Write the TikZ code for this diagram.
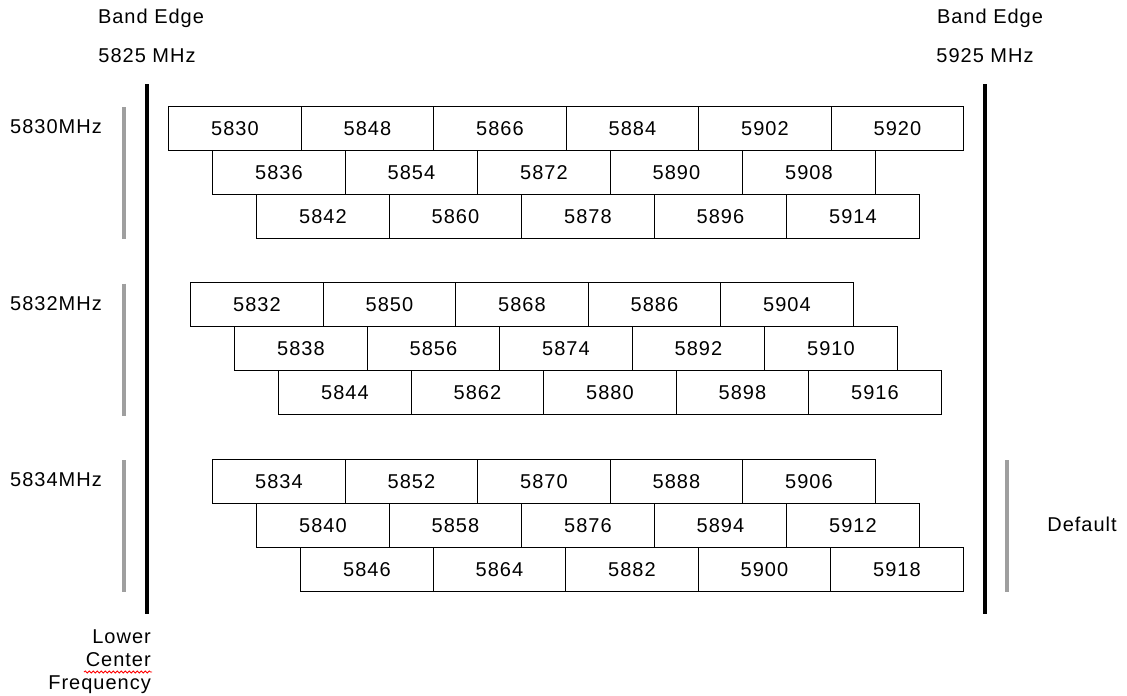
\documentclass[tikz,border=0pt]{standalone}
\usepackage{fontspec}
\setmainfont{Liberation Sans}[LetterSpace=5]
\usepackage{tikz}
\usetikzlibrary{decorations.pathmorphing}

\begin{document}
\begin{tikzpicture}[x=1pt,y=-1pt,
  every node/.style={font=\fontsize{20}{23}\selectfont, inner sep=0pt},
  chan/.style={draw, line width=1.3pt, anchor=north west,
    minimum width=132.5pt, minimum height=44pt},
  edgeline/.style={line width=4pt},
  groupbar/.style={line width=3.5pt, gray!75}]
  \useasboundingbox (0,0) rectangle (1127,696);
  % band edges
  \node (bel) at (151,18) {Band Edge};
  \node (fl) at (147,56) {5825 MHz};
  \node (ber) at (990,18) {Band Edge};
  \node (fr) at (985,56) {5925 MHz};
  \draw[edgeline] (147,84) -- (147,614);
  \draw[edgeline] (985,84) -- (985,614);
  % channel groups
  \foreach \g/\ytop/\lab in {0/107/5830MHz,1/283.5/5832MHz,2/460/5834MHz}{
    \node[anchor=west] (lab\g) at (10,{\ytop+20}) {\lab};
    \draw[groupbar] (124,\ytop) -- (124,{\ytop+132});
    \foreach \r in {0,1,2}{
      \pgfmathtruncatemacro{\nlast}{4+(\g+\r==0)}
      \foreach \k in {0,...,\nlast}{
        \pgfmathtruncatemacro{\f}{5830+2*\g+6*\r+18*\k}
        \node[chan] (ch\f) at ({168+22*(\g+2*\r)+132.5*\k},{\ytop+44*\r-1.5}) {\f};
      }
    }
  }
  \draw[groupbar] (1007,460) -- (1007,592);
  \node (dflt) at (1082,524) {Default};
  \node[align=right, anchor=north east] (lcf) at (151,630) {Lower\\Center\\Frequency};
  \draw[red, line width=0.8pt, decorate,
    decoration={snake, amplitude=1.1pt, segment length=4pt}] (84,672) -- (152,672);
\end{tikzpicture}
\end{document}
